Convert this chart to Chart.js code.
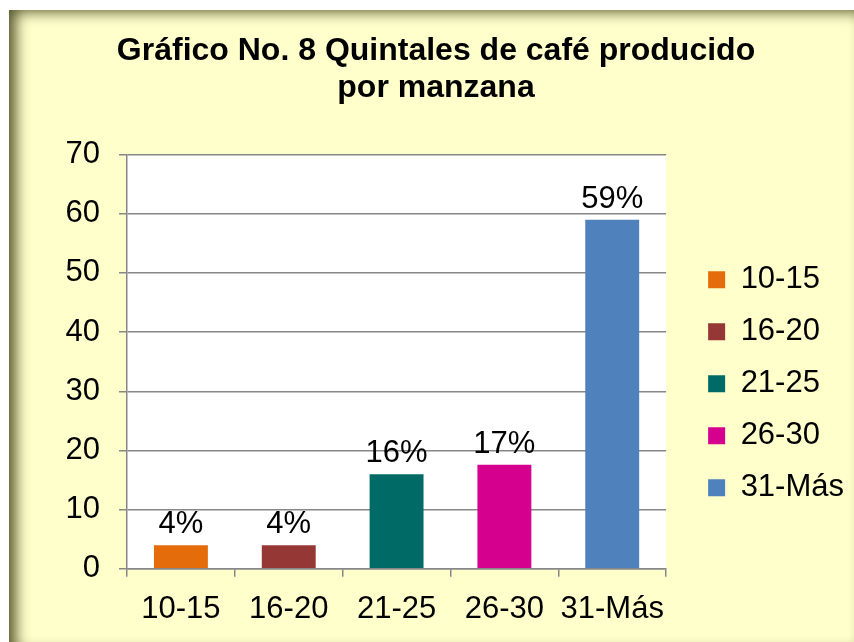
<!DOCTYPE html>
<html>
<head>
  <title>Quintales de café producido por manzana</title>
  <script src="https://cdn.jsdelivr.net/npm/chart.js@4.4.1/dist/chart.umd.min.js"></script>
  <style>
    html, body { margin: 0; padding: 0; width: 854px; height: 642px; overflow: hidden; background: #ffffff; }
    #frame {
      position: absolute; left: 9px; top: 10px; width: 848px; height: 636px;
      background: #ffffcc;
      box-shadow: inset 12px 7px 14px -5px rgba(60, 60, 20, 0.85),
                  inset -5px -6px 10px -5px rgba(110, 110, 40, 0.35);
    }
    #wrap { position: absolute; left: 0; top: 0; width: 854px; height: 642px; }
  </style>
</head>
<body>
  <div id="frame"></div>
  <div id="wrap"><canvas id="chart"></canvas></div>
  <script>
    // chart data
    var categories = ["10-15", "16-20", "21-25", "26-30", "31-Más"];
    var values = [4, 4, 16, 17.6, 59];
    var pctLabels = ["4%", "4%", "16%", "17%", "59%"];
    var yTicks = [0, 10, 20, 30, 40, 50, 60, 70];
    var barColors = ["#e46c0a", "#953735", "#006b66", "#d6008f", "#4f81bd"];

    var gridColor = "#878787";
    Chart.defaults.font.family = "'Liberation Sans', Arial, sans-serif";
    Chart.defaults.color = "#000000";

    // white plot area on top of the yellow frame
    var plotBackground = {
      id: "plotBackground",
      beforeDraw: function (chart) {
        var a = chart.chartArea;
        var ctx = chart.ctx;
        ctx.save();
        ctx.fillStyle = "#ffffff";
        ctx.fillRect(a.left, a.top, a.right - a.left, a.bottom - a.top);
        ctx.restore();
      }
    };

    // percentage labels above the bars
    var barLabels = {
      id: "barLabels",
      afterDatasetsDraw: function (chart) {
        var ctx = chart.ctx;
        var bars = chart.getDatasetMeta(0).data;
        ctx.save();
        ctx.font = "31px 'Liberation Sans', Arial, sans-serif";
        ctx.fillStyle = "#000000";
        ctx.textAlign = "center";
        ctx.textBaseline = "alphabetic";
        bars.forEach(function (bar, i) {
          ctx.fillText(pctLabels[i], bar.x, bar.y - 12);
        });
        ctx.restore();
      }
    };

    var ctx = document.getElementById("chart").getContext("2d");
    var chart = new Chart(ctx, {
      type: "bar",
      data: {
        labels: categories,
        datasets: [{
          data: values,
          backgroundColor: barColors,
          borderWidth: 0,
          barPercentage: 0.5,
          categoryPercentage: 1.0
        }]
      },
      options: {
        responsive: true,
        maintainAspectRatio: false,
        animation: false,
        layout: { padding: { left: 18, right: 0, top: 0, bottom: 0 } },
        plugins: {
          title: {
            display: true,
            text: ["Gráfico No. 8 Quintales de café producido", "por manzana"],
            font: { size: 32, weight: "bold", lineHeight: 1.15 },
            color: "#000000",
            padding: { top: 33, bottom: 48 }
          },
          legend: {
            position: "right",
            fullSize: false,
            maxWidth: 170,
            onClick: null,
            title: { display: true, text: " ", font: { size: 10 }, padding: { top: 32, bottom: 0 } },
            labels: {
              font: { size: 31 },
              color: "#000000",
              boxWidth: 17,
              boxHeight: 17,
              padding: 21,
              generateLabels: function () {
                return categories.map(function (c, i) {
                  return { text: c, fillStyle: barColors[i], strokeStyle: barColors[i], lineWidth: 0, hidden: false, index: i };
                });
              }
            }
          },
          tooltip: { enabled: false }
        },
        scales: {
          x: {
            grid: { offset: true, drawOnChartArea: false, drawTicks: true, tickLength: 8, color: gridColor, lineWidth: 1.5 },
            border: { color: gridColor, width: 1.5 },
            ticks: { font: { size: 31 }, color: "#000000", padding: 14, maxRotation: 0, autoSkip: false }
          },
          y: {
            min: yTicks[0],
            max: yTicks[yTicks.length - 1],
            afterFit: function (scale) { scale.width = 109; },
            grid: { color: gridColor, lineWidth: 1.5, tickLength: 8 },
            border: { color: gridColor, width: 1.5 },
            ticks: { stepSize: yTicks[1] - yTicks[0], font: { size: 31 }, color: "#000000", padding: 19 }
          },
          // empty spacer between plot and legend
          gap: {
            position: "right",
            afterFit: function (scale) { scale.width = 21; },
            grid: { display: false },
            border: { display: false },
            ticks: { display: false }
          }
        }
      },
      plugins: [plotBackground, barLabels]
    });
  </script>
</body>
</html>
